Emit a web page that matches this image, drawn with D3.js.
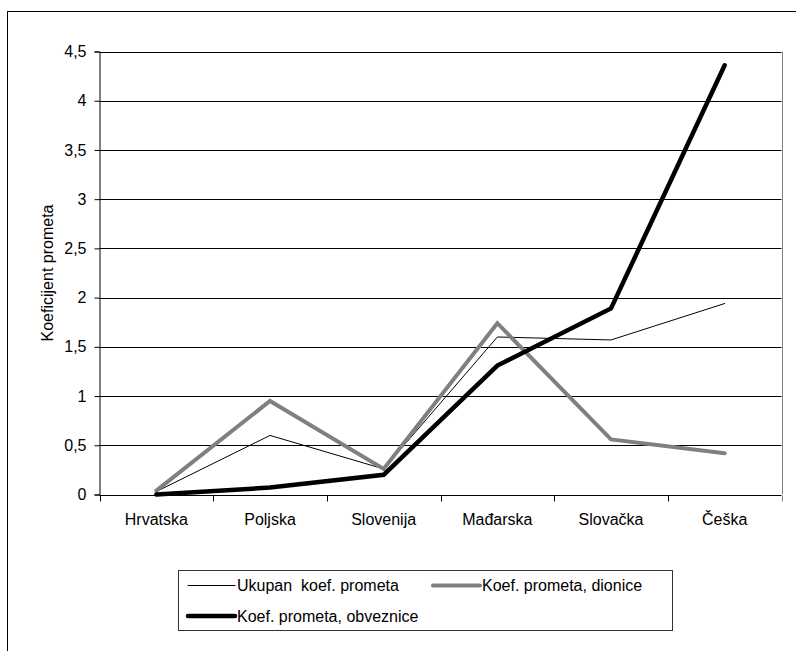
<!DOCTYPE html>
<html>
<head>
<meta charset="utf-8">
<script src="https://cdn.jsdelivr.net/npm/d3@7"></script>
<style>
  body { margin: 0; background: #fff; }
  svg { display: block; font-family: "Liberation Sans", Arial, sans-serif; }
  .axis text { font-size: 16px; fill: #000; }
</style>
</head>
<body>
<div id="chart"></div>
<script>
var countries = ["Hrvatska", "Poljska", "Slovenija", "Mađarska", "Slovačka", "Češka"];
var ukupan = [0.03, 0.6, 0.26, 1.6, 1.57, 1.94];
var dionice = [0.04, 0.95, 0.26, 1.74, 0.56, 0.42];
var obveznice = [0.0, 0.07, 0.2, 1.31, 1.89, 4.36];
var yTicks = [0, 0.5, 1, 1.5, 2, 2.5, 3, 3.5, 4, 4.5];

var series = [
	{ name: "Ukupan  koef. prometa", values: ukupan, color: "#000", width: 1 },
	{ name: "Koef. prometa, dionice", values: dionice, color: "#808080", width: 4 },
	{ name: "Koef. prometa, obveznice", values: obveznice, color: "#000", width: 4.5 }
];

var width = 796, height = 651;
var margin = { top: 51.5, right: 14.5, bottom: 156.5, left: 99.5 };

var svg = d3.select("#chart").append("svg")
	.attr("width", width)
	.attr("height", height);

// outer frame, runs past the window on the right and bottom
svg.append("rect")
	.attr("x", 7.5).attr("y", 11.5)
	.attr("width", width + 20).attr("height", height + 20)
	.attr("fill", "#fff").attr("stroke", "#000");

var x = d3.scaleBand()
	.domain(countries)
	.range([margin.left, width - margin.right]);

var y = d3.scaleLinear()
	.domain([0, 4.5])
	.range([height - margin.bottom, margin.top]);

var fmt = function(d) { return String(d).replace(".", ","); };

// gridlines
svg.append("g")
	.selectAll("line")
	.data(yTicks.slice(1))
	.enter().append("line")
		.attr("x1", x.range()[0]).attr("x2", x.range()[1])
		.attr("y1", d => Math.round(y(d)) + 0.5)
		.attr("y2", d => Math.round(y(d)) + 0.5)
		.attr("stroke", "#000")
		.attr("stroke-width", 1);

// right border of plot area
svg.append("line")
	.attr("x1", Math.round(x.range()[1]) + 0.5).attr("x2", Math.round(x.range()[1]) + 0.5)
	.attr("y1", y(4.5)).attr("y2", y(0))
	.attr("stroke", "#808080");

// y axis
var yAxis = svg.append("g")
	.attr("class", "axis")
	.attr("transform", "translate(" + margin.left + ",0)")
	.call(d3.axisLeft(y).tickValues(yTicks).tickFormat(fmt).tickSize(5).tickPadding(8));
yAxis.select(".domain").attr("stroke", "#000");

// x axis: labels at band centres, ticks at band edges
var xAxis = svg.append("g")
	.attr("class", "axis")
	.attr("transform", "translate(0," + (Math.round(y(0)) + 0.5) + ")")
	.call(d3.axisBottom(x).tickSize(0).tickPadding(18));
xAxis.select(".domain").remove();

var edges = countries.map(c => x(c)).concat([x.range()[1]]);
xAxis.selectAll(".edge")
	.data(edges)
	.enter().append("line")
		.attr("class", "edge")
		.attr("x1", d => Math.round(d) + 0.5).attr("x2", d => Math.round(d) + 0.5)
		.attr("y1", 0).attr("y2", 6)
		.attr("stroke", (d, i) => i == edges.length - 1 ? "#808080" : "#000");
xAxis.append("line")
	.attr("x1", x.range()[0]).attr("x2", x.range()[1])
	.attr("stroke", "#000");

// y axis title
svg.append("text")
	.attr("transform", "translate(53," + ((y(0) + y(4.5)) / 2) + ") rotate(-90)")
	.attr("text-anchor", "middle")
	.style("font-size", "16px")
	.text("Koeficijent prometa");

// lines
var line = d3.line()
	.x((d, i) => x(countries[i]) + x.bandwidth() / 2)
	.y(d => y(d));

svg.append("g")
	.selectAll("path")
	.data(series)
	.enter().append("path")
		.attr("d", d => line(d.values))
		.attr("fill", "none")
		.attr("stroke", d => d.color)
		.attr("stroke-width", d => d.width)
		.attr("stroke-linejoin", "miter")
		.attr("stroke-linecap", "round");

// legend
var legend = svg.append("g");
legend.append("rect")
	.attr("x", 178.5).attr("y", 570.5)
	.attr("width", 494).attr("height", 60)
	.attr("fill", "#fff").attr("stroke", "#333");

var legendPos = [[188, 585.5], [433, 585.5], [188, 616]];
var items = legend.selectAll(".item")
	.data(series)
	.enter().append("g")
		.attr("class", "item")
		.attr("transform", (d, i) => "translate(" + legendPos[i][0] + "," + legendPos[i][1] + ")");
items.append("line")
	.attr("x1", 0).attr("x2", 47)
	.attr("stroke", d => d.color)
	.attr("stroke-width", d => d.width)
	.attr("stroke-linecap", "round");
items.append("text")
	.attr("x", 49).attr("dy", "0.35em")
	.style("font-size", "16px")
	.style("white-space", "pre")
	.attr("xml:space", "preserve")
	.text(d => d.name);
</script>
</body>
</html>
